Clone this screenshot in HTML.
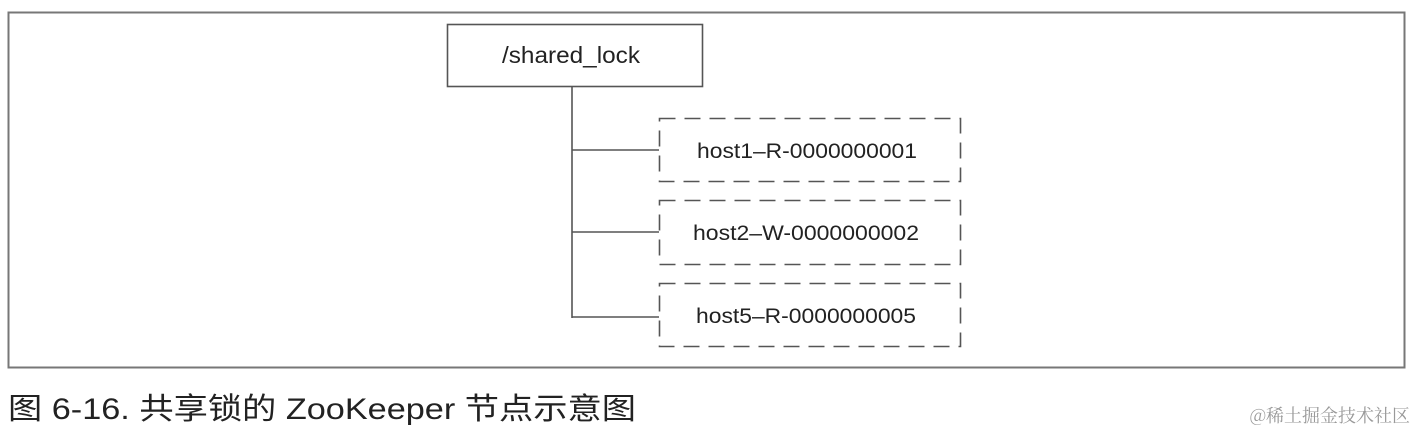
<!DOCTYPE html>
<html><head><meta charset="utf-8"><style>
html,body{margin:0;padding:0;background:#fff;width:1418px;height:436px;overflow:hidden}
svg{display:block}
</style></head><body>
<svg width="1418" height="436" xmlns="http://www.w3.org/2000/svg">
<rect x="8.5" y="12.5" width="1396" height="355" fill="none" stroke="#777" stroke-width="2"/>
<rect x="447.5" y="24.5" width="255" height="62" fill="#fff" stroke="#555" stroke-width="1.6"/>
<text x="571" y="63" text-anchor="middle" font-family="Liberation Sans, sans-serif" font-size="23" fill="#222" textLength="138" lengthAdjust="spacingAndGlyphs">/shared_lock</text>
<g stroke="#555" stroke-width="1.6" fill="none">
<line x1="572" y1="86" x2="572" y2="318"/>
<line x1="572" y1="150" x2="659" y2="150"/>
<line x1="572" y1="232" x2="659" y2="232"/>
<line x1="572" y1="317" x2="659" y2="317"/>
</g>
<g stroke="#555" stroke-width="1.6" fill="none" stroke-dasharray="16,9">
<rect x="659.5" y="118.5" width="301" height="63"/>
<rect x="659.5" y="200.5" width="301" height="64"/>
<rect x="659.5" y="283.5" width="301" height="63"/>
</g>
<g font-family="Liberation Sans, sans-serif" font-size="21" fill="#222">
<text x="697" y="158" textLength="220" lengthAdjust="spacingAndGlyphs">host1–R-0000000001</text>
<text x="693" y="240" textLength="226" lengthAdjust="spacingAndGlyphs">host2–W-0000000002</text>
<text x="696" y="323" textLength="220" lengthAdjust="spacingAndGlyphs">host5–R-0000000005</text>
</g>
<text x="8" y="419" font-family="Liberation Sans, Noto Sans CJK SC, sans-serif" font-size="30" fill="#222" textLength="628" lengthAdjust="spacingAndGlyphs">图 6-16.  共享锁的 ZooKeeper 节点示意图</text>
<text x="1410" y="422" text-anchor="end" font-family="Noto Serif CJK SC, Noto Sans CJK SC, serif" font-size="18" fill="#999">@稀土掘金技术社区</text>
</svg>
</body></html>
